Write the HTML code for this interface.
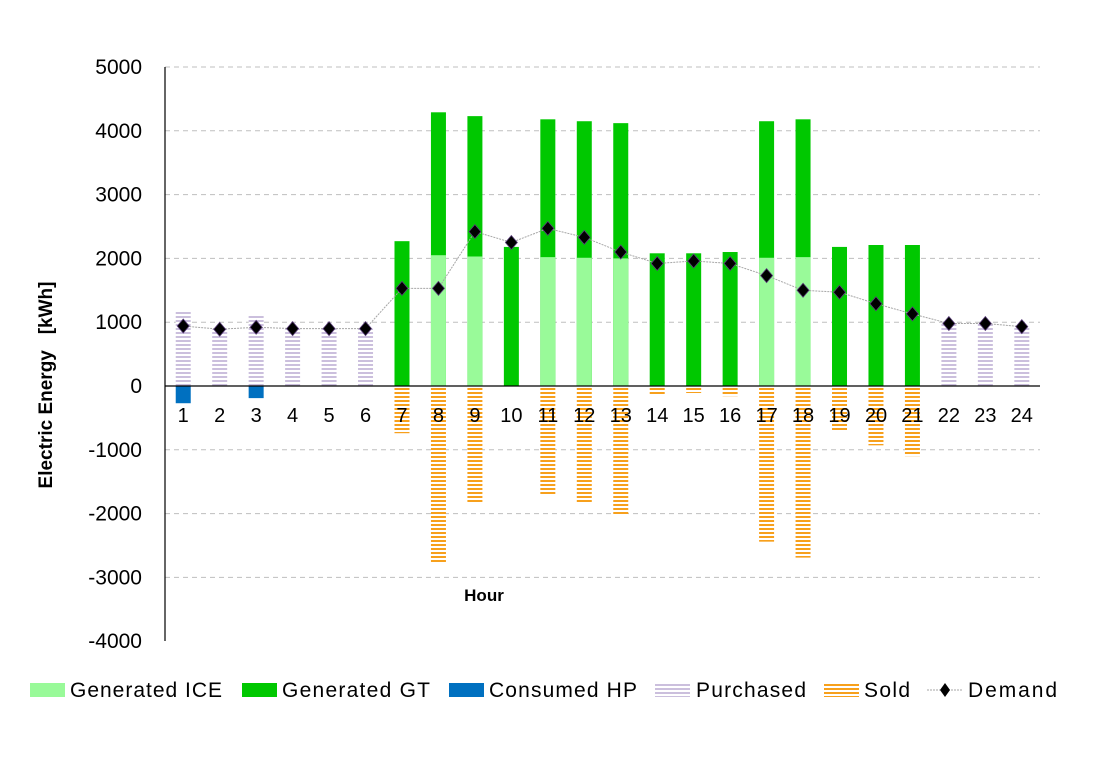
<!DOCTYPE html>
<html><head><meta charset="utf-8"><style>
html,body{margin:0;padding:0;background:#fff;}
svg text{font-family:"Liberation Sans",Arial,sans-serif;}
</style></head><body>
<svg id="c" width="1103" height="777" xmlns="http://www.w3.org/2000/svg">
<defs>
<pattern id="pur" width="4" height="4" patternUnits="userSpaceOnUse"><rect width="4" height="4" fill="#fff"/><rect width="4" height="2" fill="#cbbfdd"/></pattern>
<pattern id="sold" width="4" height="4" patternUnits="userSpaceOnUse"><rect width="4" height="4" fill="#fff"/><rect width="4" height="2" fill="#f7a01c"/></pattern>
</defs>
<g id="g"></g>
</svg>
<script>
const Y0=386, S=63.8/1000, X0=165, W=36.46, BW=15;
const y=v=>Y0-v*S;
const data=[
[0,0,0,1170,-270,940],[0,0,0,890,0,890],[0,0,0,1100,-190,920],[0,0,0,900,0,900],[0,0,0,900,0,900],[0,0,0,900,0,900],
[0,2270,-740,0,0,1530],[2050,4290,-2770,0,0,1530],[2030,4230,-1830,0,0,2420],[0,2180,0,0,0,2250],
[2020,4180,-1710,0,0,2470],[2010,4150,-1830,0,0,2330],[2000,4120,-2030,0,0,2100],
[0,2080,-150,0,0,1920],[0,2080,-110,0,0,1960],[0,2100,-160,0,0,1920],
[2010,4150,-2440,0,0,1730],[2020,4180,-2690,0,0,1500],[0,2180,-690,0,0,1470],[0,2210,-930,0,0,1290],[0,2210,-1100,0,0,1130],
[0,0,0,980,0,980],[0,0,0,980,0,980],[0,0,0,930,0,930]];
let s='';
for(let v=5000;v>=-4000;v-=1000){
  if(v!==0&&v!==-4000) s+=`<line x1="${X0}" x2="1040" y1="${y(v)}" y2="${y(v)}" stroke="#bfbfbf" stroke-dasharray="5,4"/>`;
  s+=`<text x="142" y="${y(v)+7}" font-size="21" text-anchor="end">${v}</text>`;
}
const pts=[];
data.forEach((d,i)=>{
  const cx=X0+W*(i+0.5), bx=cx-BW/2;
  const [ice,gt,sold,pur,hp,dem]=d;
  if(pur) s+=`<rect x="${bx}" y="${y(pur)}" width="${BW}" height="${pur*S}" fill="url(#pur)"/>`;
  if(gt) s+=`<rect x="${bx}" y="${y(gt)}" width="${BW}" height="${gt*S}" fill="#00c800"/>`;
  if(ice) s+=`<rect x="${bx}" y="${y(ice)}" width="${BW}" height="${ice*S}" fill="#99fa99"/>`;
  if(sold) s+=`<rect x="${bx}" y="${Y0}" width="${BW}" height="${-sold*S}" fill="url(#sold)"/>`;
  if(hp) s+=`<rect x="${bx}" y="${Y0}" width="${BW}" height="${-hp*S}" fill="#0070c0"/>`;
  s+=`<text x="${cx}" y="422" font-size="20" text-anchor="middle">${i+1}</text>`;
  pts.push([cx,y(dem)]);
});
s+=`<polyline points="${pts.map(p=>p.join(',')).join(' ')}" fill="none" stroke="#a6a6a6" stroke-width="1" stroke-dasharray="2,1"/>`;
pts.forEach(p=>{s+=`<path d="M${p[0]} ${p[1]-7}L${p[0]+6} ${p[1]}L${p[0]} ${p[1]+7}L${p[0]-6} ${p[1]}Z" fill="#000" stroke="#5a3d7a" stroke-width="0.8"/>`;});
s+=`<line x1="${X0}" x2="1040" y1="${Y0}" y2="${Y0}" stroke="#000" stroke-width="1.2"/>`;
s+=`<line x1="${X0}" x2="${X0}" y1="67" y2="641" stroke="#000" stroke-width="1.2"/>`;
s+=`<text x="484" y="601" font-size="17" font-weight="bold" text-anchor="middle">Hour</text>`;
s+=`<text transform="translate(52,385) rotate(-90)" font-size="19" font-weight="bold" text-anchor="middle" xml:space="preserve">Electric Energy   [kWh]</text>`;
const ly=683, lh=14;
s+=`<rect x="30" y="${ly}" width="35" height="${lh}" fill="#99fa99"/><text x="70" y="697" font-size="21" textLength="152">Generated ICE</text>`;
s+=`<rect x="242" y="${ly}" width="35" height="${lh}" fill="#00c800"/><text x="282" y="697" font-size="21" textLength="148">Generated GT</text>`;
s+=`<rect x="449" y="${ly}" width="35" height="${lh}" fill="#0070c0"/><text x="489" y="697" font-size="21" textLength="148">Consumed HP</text>`;
s+=`<rect x="655" y="${ly}" width="35" height="${lh}" fill="url(#pur)"/><text x="696" y="697" font-size="21" textLength="110">Purchased</text>`;
s+=`<rect x="824" y="${ly}" width="35" height="${lh}" fill="url(#sold)"/><text x="864" y="697" font-size="21" textLength="46">Sold</text>`;
s+=`<line x1="927" x2="962" y1="690" y2="690" stroke="#a6a6a6" stroke-dasharray="2,1"/><path d="M945 683L950 690L945 697L940 690Z" fill="#000"/><text x="968" y="697" font-size="21" textLength="89">Demand</text>`;
document.getElementById('g').innerHTML=s;
</script>
</body></html>
